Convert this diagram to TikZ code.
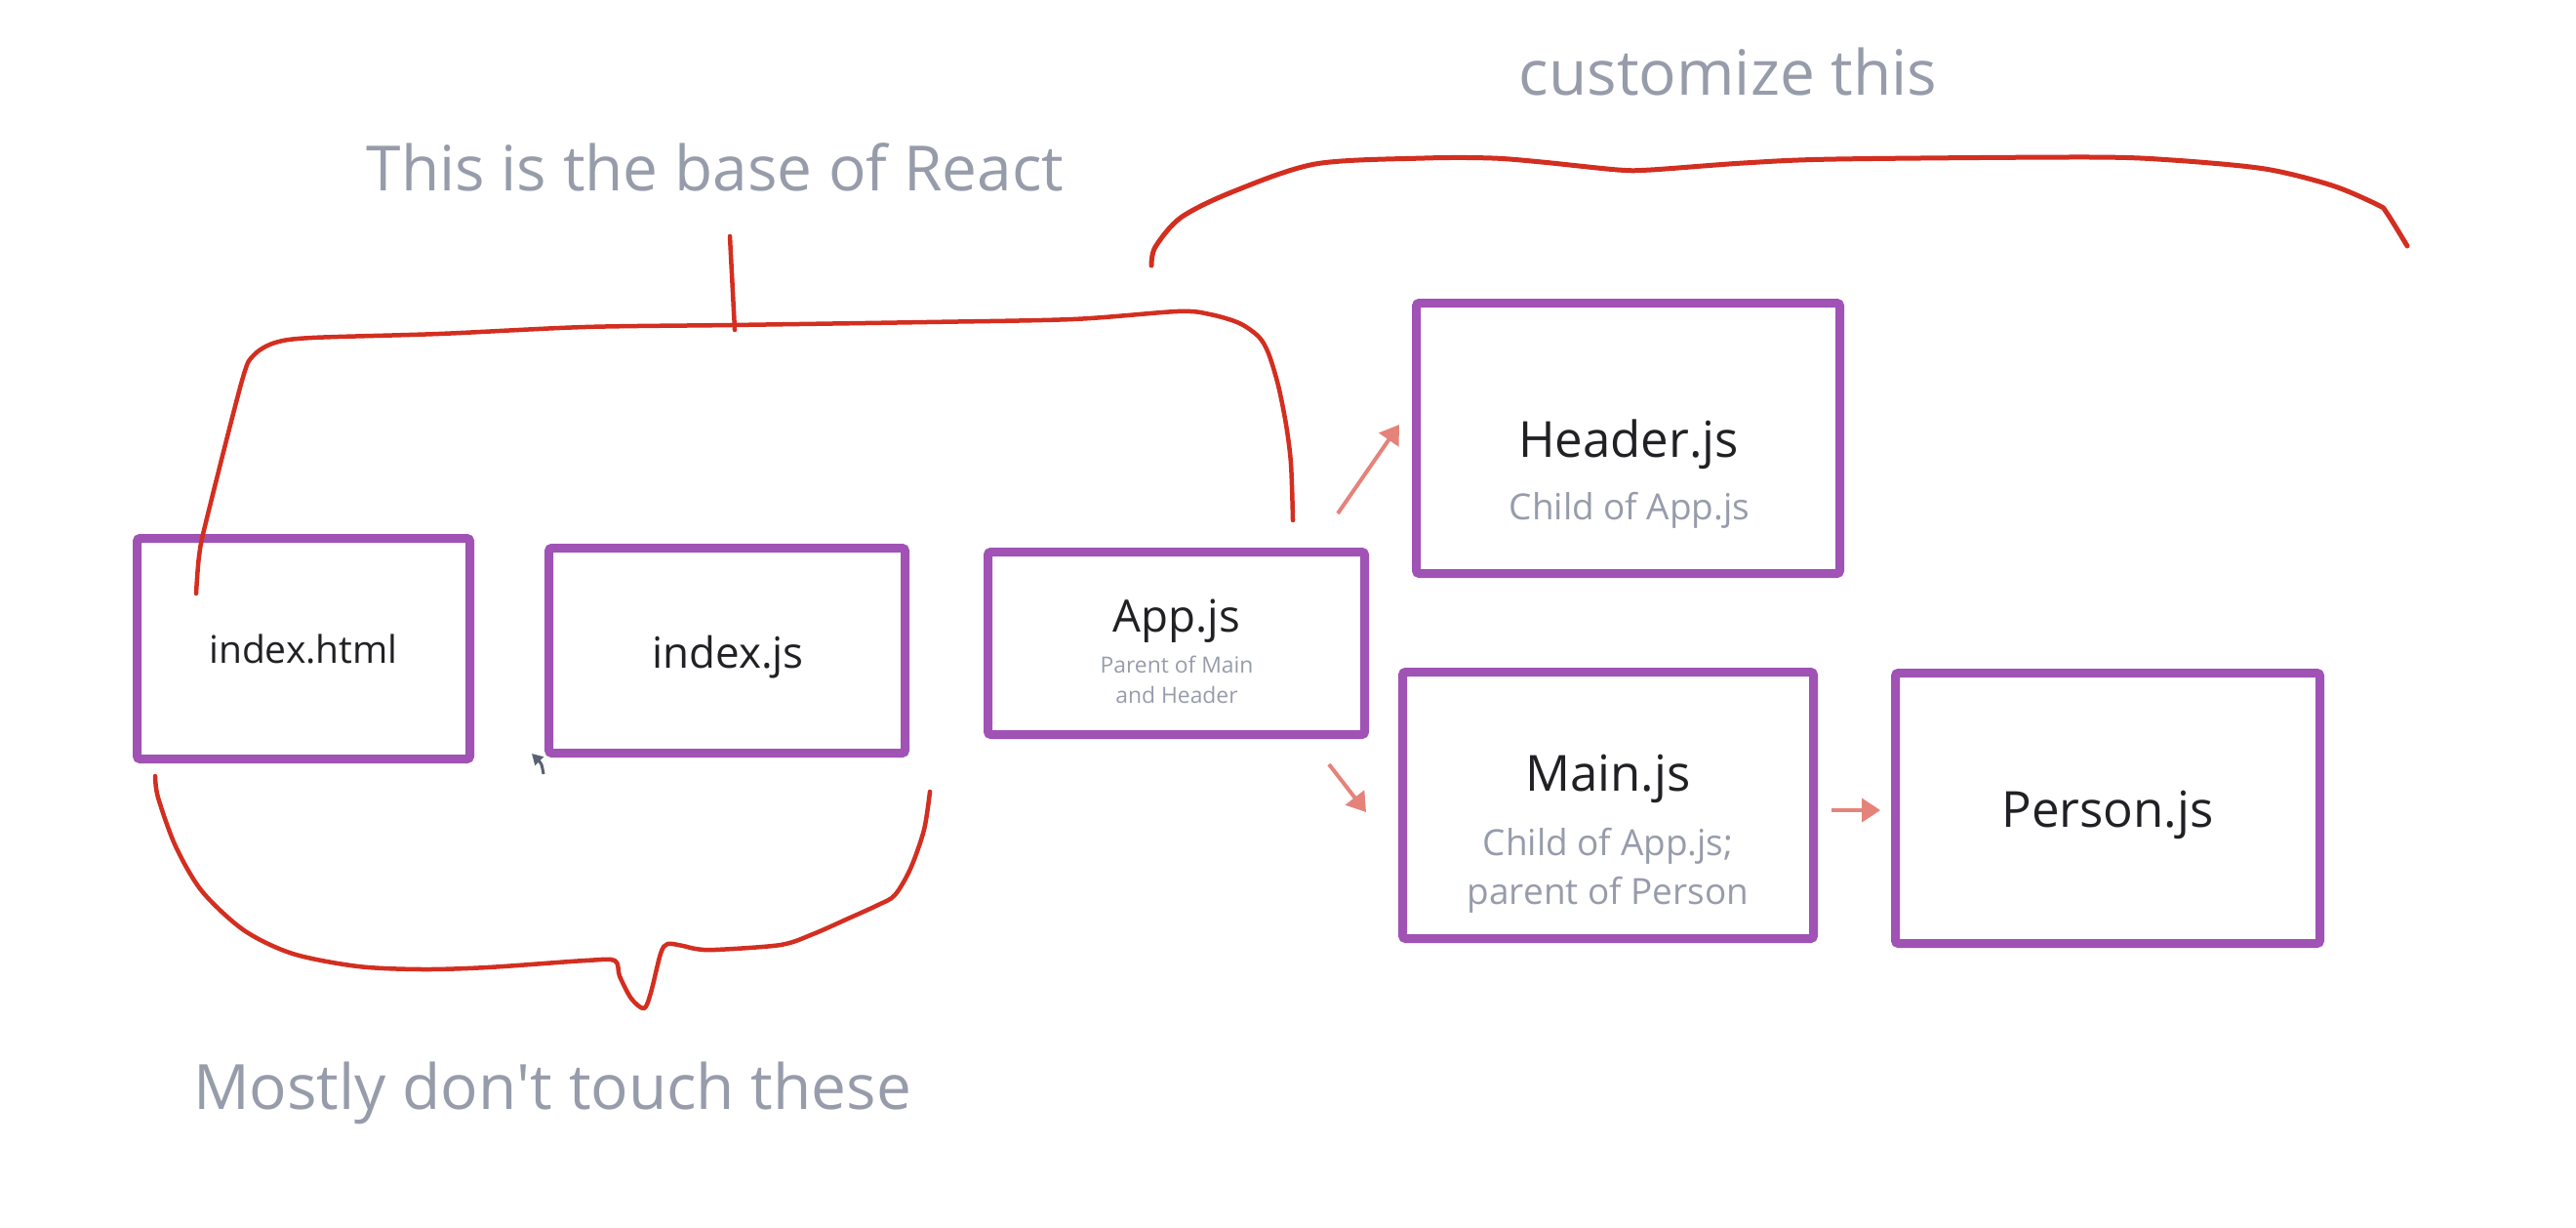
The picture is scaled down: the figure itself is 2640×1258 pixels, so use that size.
\documentclass[tikz,border=0pt]{standalone}
\usepackage{fontspec}
\setmainfont{Open Sans}
\usetikzlibrary{arrows.meta,calc}

\definecolor{boxpurple}{RGB}{160,82,181}
\definecolor{penred}{RGB}{211,46,32}
\definecolor{linkpink}{RGB}{229,131,122}
\definecolor{notegrey}{RGB}{151,156,171}
\definecolor{inkdark}{RGB}{33,33,37}
\definecolor{cursorgrey}{RGB}{89,97,115}

\tikzset{filebox/.style={draw=boxpurple,line width=0.9mm,rounded corners=0.3mm,inner sep=0pt},
  fname/.style={text=inkdark,anchor=base,inner sep=0pt,font=\fontsize{14.5}{17}\selectfont},
  fnote/.style={text=notegrey,anchor=base,inner sep=0pt,font=\fontsize{10.5}{13}\selectfont},
  remark/.style={text=notegrey,anchor=base,inner sep=0pt,font=\fontsize{18.2}{22}\selectfont},
  scribble/.style={draw=penred,line width=0.45mm,line cap=round,line join=round},
  flow/.style={draw=linkpink,line width=0.4mm,-{Triangle[length=1.9mm,width=2.4mm]}}}

\begin{document}
\begin{tikzpicture}[x=0.1mm,y=-0.1mm]
    \useasboundingbox (0,0) rectangle (2640,1258);
    % file boxes
    \node[filebox,minimum width=34.1mm,minimum height=22.6mm] (html) at (311,664.5) {};
    \node[filebox,minimum width=36.5mm,minimum height=21.0mm] (idxjs) at (745,666.5) {};
    \node[filebox,minimum width=38.6mm,minimum height=18.7mm] (app) at (1205.5,659) {};
    \node[filebox,minimum width=43.4mm,minimum height=27.7mm] (hdr) at (1668.5,449) {};
    \node[filebox,minimum width=42.1mm,minimum height=27.3mm] (mainjs) at (1648,825) {};
    \node[filebox,minimum width=43.5mm,minimum height=27.7mm] (person) at (2160,828) {};
    % names and notes
    \node[fname,font=\fontsize{11.1}{13}\selectfont] (htmlname) at (311,679) {index.html};
    \node[fname,font=\fontsize{12.5}{15}\selectfont] (idxname) at (746,684) {index.js};
    \node[fname,font=\fontsize{13}{15}\selectfont] (appname) at (1206,647) {App.js};
    \node[fnote,font=\fontsize{6.5}{8}\selectfont] (appnote) at (1206,689) {Parent of Main};
    \node[fnote,font=\fontsize{6.5}{8}\selectfont] (appnotetwo) at (1206,720) {and Header};
    \node[fname] (hdrname) at (1669,468) {Header.js};
    \node[fnote] (hdrnote) at (1670,532) {Child of App.js};
    \node[fname] (mainname) at (1648,810) {Main.js};
    \node[fnote] (mainnote) at (1648,876) {Child of App.js;};
    \node[fnote] (mainnotetwo) at (1648,926) {parent of Person};
    \node[fname] (personname) at (2160,847) {Person.js};
    % remarks
    \node[remark] (basenote) at (733,196) {This is the base of React};
    \node[remark] (customnote) at (1771,98) {customize this};
    \node[remark] (touchnote) at (566,1136) {Mostly don\textquotesingle t touch these};
    % links
    \draw[flow] ($(app.north east)+(-32,-35)$) -- ($(hdr.west)+(-13,-14)$);
    \draw[flow] ($(app.south east)+(-41,26)$) -- ($(mainjs.west)+(-33,7)$);
    \draw[flow] ($(mainjs.east)+(14,5)$) -- ($(person.west)+(-11,2)$);
    % red scribbles
    \draw[scribble] plot[smooth,tension=0.5] coordinates {(201,608) (204,570) (211,535) (248,390) (260,364) (282,351) (320,346) (450,342) (600,335) (750,333) (950,330) (1100,327) (1207,319) (1240,322) (1270,331) (1290,345) (1300,362) (1310,395) (1318,435) (1323,475) (1325,533)};
    \draw[scribble] (748,242) -- (753,338);
    \draw[scribble,line width=0.5mm] plot[smooth,tension=0.5] coordinates {(1180,272) (1184,253) (1210,223) (1262,197) (1348,168) (1460,162) (1529,162) (1580,166) (1658,174) (1692,174) (1787,167) (1882,163) (2140,161) (2226,164) (2321,173) (2390,190) (2437,210) (2446,218) (2467,252)};
    \draw[scribble] plot[smooth,tension=0.5] coordinates {(159,795) (162,817) (180,867) (207,913) (250,953) (300,977) (367,990) (433,993) (500,991) (600,984) (630,984) (635,1000) (647,1023) (660,1033) (667,1017) (677,977) (684,967) (700,969) (713,972) (733,973) (800,968) (833,957) (867,942) (900,927) (917,917) (933,890) (947,850) (953,811)};
    % cursor
    \draw[cursorgrey,line width=0.3mm,-{Triangle[length=1.1mm,width=1.2mm]}] (557,793) .. controls (555,782) .. (545,772);
\end{tikzpicture}
\end{document}
